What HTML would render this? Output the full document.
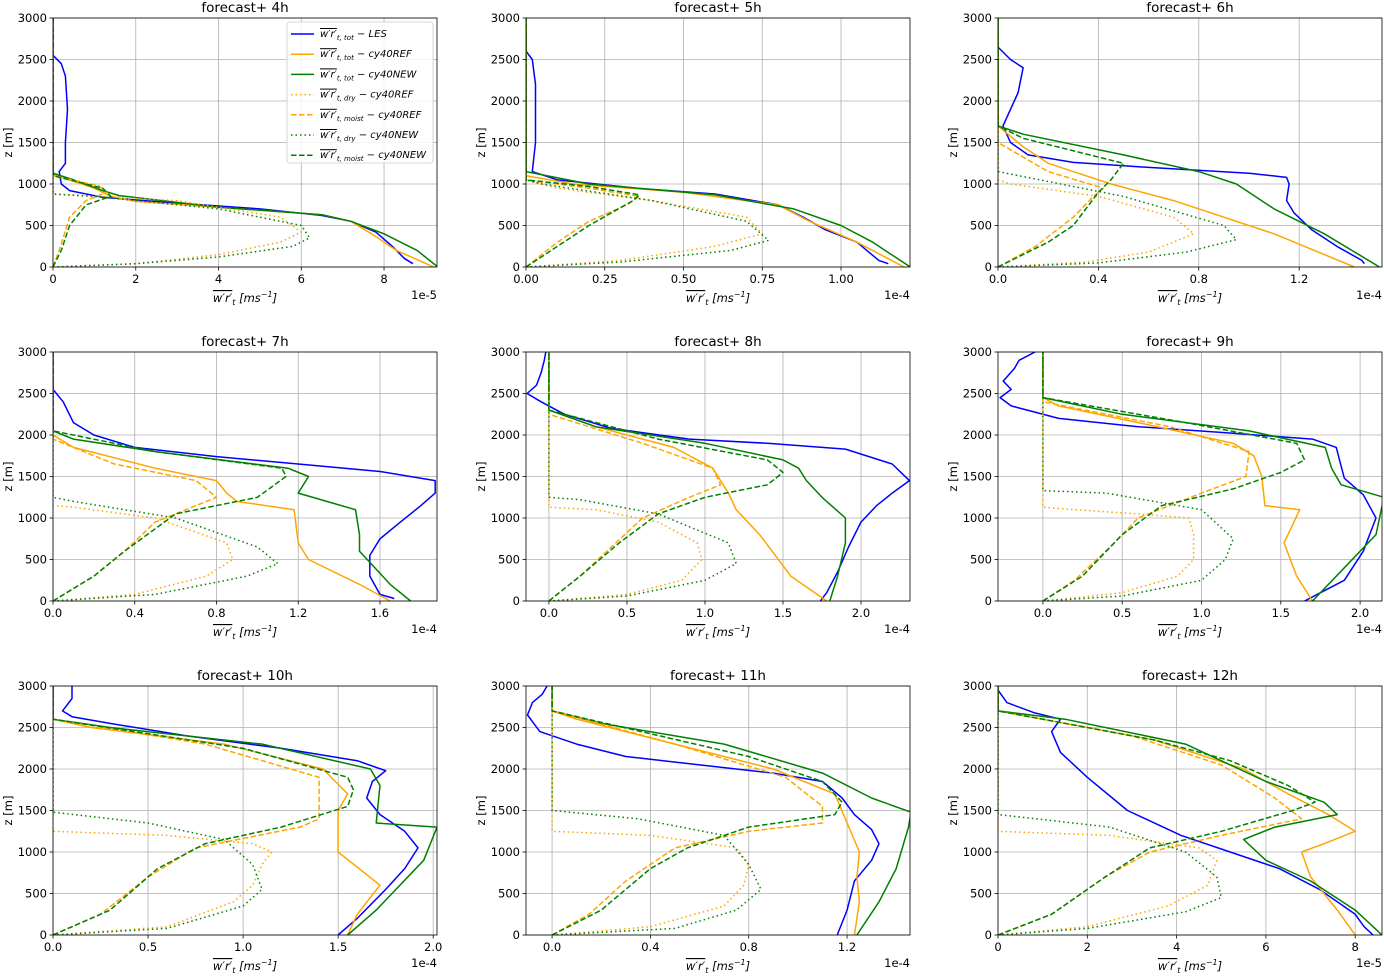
<!DOCTYPE html>
<html><head><meta charset="utf-8"><style>
body{margin:0;background:#fff;font-family:"Liberation Sans","DejaVu Sans",sans-serif}
svg text{font-family:"DejaVu Sans","Liberation Sans",sans-serif}
</style></head><body>
<svg id="fig" width="1384" height="974" xmlns="http://www.w3.org/2000/svg"></svg>
<script>
// ---- data (value, height[m]) per panel ----
const titles=["forecast+ 4h","forecast+ 5h","forecast+ 6h","forecast+ 7h","forecast+ 8h","forecast+ 9h","forecast+ 10h","forecast+ 11h","forecast+ 12h"];
const xDomains=[[0,9.28],[0,1.219],[0,1.53],[0,1.879],[-0.147,2.314],[-0.283,2.138],[0,2.02],[-0.106,1.456],[0,8.6]];
const xTicks=[[0,2,4,6,8],[0,0.25,0.5,0.75,1.0],[0,0.4,0.8,1.2],[0,0.4,0.8,1.2,1.6],[0,0.5,1,1.5,2],[0,0.5,1,1.5,2],[0,0.5,1,1.5,2],[0,0.4,0.8,1.2],[0,2,4,6,8]];
const xTickLabels=[["0","2","4","6","8"],["0.00","0.25","0.50","0.75","1.00"],["0.0","0.4","0.8","1.2"],["0.0","0.4","0.8","1.2","1.6"],["0.0","0.5","1.0","1.5","2.0"],["0.0","0.5","1.0","1.5","2.0"],["0.0","0.5","1.0","1.5","2.0"],["0.0","0.4","0.8","1.2"],["0","2","4","6","8"]];
const offsets=["1e-5","1e-4","1e-4","1e-4","1e-4","1e-4","1e-4","1e-4","1e-5"];
const yTicks=[0,500,1000,1500,2000,2500,3000];

const les=[
[[8.7,40],[8.5,100],[8.2,250],[7.8,420],[7.2,550],[6.5,620],[5,700],[3,770],[1.2,840],[0.4,920],[0.2,1000],[0.15,1150],[0.3,1250],[0.3,1500],[0.35,1900],[0.3,2300],[0.2,2450],[0,2550],[0,3000]],
[[1.15,40],[1.12,80],[1.05,300],[0.95,450],[0.88,600],[0.8,750],[0.6,880],[0.35,950],[0.1,1050],[0.02,1150],[0.03,1500],[0.03,2200],[0.02,2500],[0,2600],[0,3000]],
[[1.46,40],[1.45,80],[1.35,250],[1.25,450],[1.18,650],[1.15,800],[1.16,1000],[1.15,1080],[1.0,1130],[0.6,1200],[0.3,1260],[0.12,1350],[0.05,1500],[0.02,1700],[0.05,1900],[0.08,2100],[0.1,2400],[0.05,2500],[0,2650],[0,3000]],
[[1.67,30],[1.6,80],[1.55,300],[1.55,550],[1.6,750],[1.7,950],[1.8,1150],[1.87,1300],[1.87,1450],[1.6,1560],[1.2,1650],[0.8,1740],[0.4,1850],[0.2,2000],[0.1,2150],[0.05,2400],[0,2550],[0,3000]],
[[1.74,0],[1.78,100],[1.85,350],[1.92,650],[2.0,950],[2.1,1150],[2.2,1300],[2.31,1450],[2.2,1650],[1.9,1830],[1.4,1900],[0.9,1950],[0.4,2080],[0.1,2250],[-0.05,2400],[-0.14,2500],[-0.08,2600],[-0.05,2750],[-0.03,2900],[-0.02,3000]],
[[1.65,0],[1.75,100],[1.9,250],[2.02,600],[2.1,1000],[2.02,1280],[1.9,1480],[1.87,1700],[1.85,1850],[1.7,1950],[1.2,2020],[0.6,2100],[0.1,2200],[-0.2,2350],[-0.27,2450],[-0.2,2550],[-0.25,2650],[-0.18,2800],[-0.15,2900],[-0.05,3000]],
[[1.5,0],[1.6,200],[1.75,550],[1.85,800],[1.92,1050],[1.85,1250],[1.72,1450],[1.65,1650],[1.68,1850],[1.75,1980],[1.6,2100],[1.2,2250],[0.7,2400],[0.3,2550],[0.1,2630],[0.05,2700],[0.1,2850],[0.1,3000]],
[[1.16,0],[1.2,300],[1.23,650],[1.3,900],[1.33,1100],[1.3,1270],[1.23,1450],[1.18,1650],[1.1,1850],[0.9,1950],[0.6,2050],[0.3,2150],[0.1,2300],[-0.05,2450],[-0.1,2650],[-0.08,2800],[-0.04,2900],[-0.02,3000]],
[[8.4,0],[8.2,100],[8.0,250],[7.2,550],[6.3,800],[5.2,1000],[4.1,1200],[2.9,1500],[2.0,1900],[1.4,2200],[1.2,2450],[1.4,2600],[0.8,2680],[0.2,2800],[0,2950],[0,3000]]];
const refTot=[
[[9.2,0],[8.3,200],[7.7,400],[7.2,550],[6.5,630],[4,720],[2,790],[1.4,850],[1.0,950],[0.4,1050],[0,1120],[0,3000]],
[[1.2,0],[1.05,300],[0.9,550],[0.8,750],[0.5,900],[0.15,1000],[0,1100],[0,3000]],
[[1.42,0],[1.1,400],[0.7,800],[0.45,1000],[0.35,1100],[0.2,1250],[0.1,1450],[0,1700],[0,3000]],
[[1.65,0],[1.5,200],[1.25,500],[1.2,700],[1.18,1100],[0.9,1200],[0.85,1300],[0.8,1450],[0.5,1600],[0.1,1850],[0,2000],[0,3000]],
[[1.78,0],[1.55,300],[1.35,800],[1.2,1100],[1.15,1300],[1.05,1600],[0.8,1850],[0.3,2100],[0,2300],[0,3000]],
[[1.7,0],[1.6,300],[1.52,700],[1.62,1100],[1.4,1150],[1.38,1500],[1.33,1750],[1.2,1900],[0.6,2150],[0.1,2350],[0,2450],[0,3000]],
[[1.55,0],[1.6,250],[1.72,600],[1.5,1000],[1.5,1500],[1.55,1700],[1.42,2000],[0.9,2300],[0.2,2500],[0,2600],[0,3000]],
[[1.23,0],[1.25,400],[1.24,700],[1.25,1000],[1.2,1350],[1.15,1700],[0.9,2000],[0.5,2300],[0.1,2600],[0,2700],[0,3000]],
[[8.0,0],[7.6,300],[7.0,700],[6.8,1000],[7.3,1100],[8.0,1250],[7.4,1450],[6.5,1700],[5.5,2000],[3.5,2350],[1.0,2600],[0,2700],[0,3000]]];
const newTot=[
[[9.3,0],[8.8,200],[8.0,400],[7.2,550],[6.5,630],[4,720],[1.6,860],[1.2,920],[0.5,1050],[0,1130],[0,3000]],
[[1.22,0],[1.1,300],[1.0,500],[0.85,700],[0.6,870],[0.2,1000],[0,1150],[0,3000]],
[[1.52,0],[1.3,400],[1.1,700],[0.95,1000],[0.8,1150],[0.5,1350],[0.1,1600],[0,1700],[0,3000]],
[[1.75,0],[1.65,200],[1.5,600],[1.5,800],[1.48,1100],[1.2,1300],[1.25,1500],[1.15,1600],[0.5,1800],[0.1,1950],[0,2050],[0,3000]],
[[1.8,0],[1.85,300],[1.9,700],[1.9,1000],[1.75,1250],[1.65,1450],[1.6,1600],[1.5,1700],[1.0,1900],[0.3,2100],[0,2300],[0,3000]],
[[1.7,0],[1.9,400],[2.1,800],[2.15,1250],[1.88,1400],[1.82,1600],[1.78,1850],[1.3,2050],[0.5,2250],[0,2450],[0,3000]],
[[1.55,0],[1.7,300],[1.95,900],[2.02,1300],[1.7,1350],[1.72,1800],[1.67,2000],[1.1,2300],[0.3,2500],[0,2600],[0,3000]],
[[1.24,0],[1.33,400],[1.4,800],[1.45,1300],[1.46,1480],[1.3,1650],[1.1,1950],[0.7,2300],[0.2,2550],[0,2700],[0,3000]],
[[8.6,0],[8.0,300],[7.0,650],[6.0,900],[5.5,1150],[6.2,1300],[7.6,1450],[7.3,1600],[6.0,1850],[4.2,2300],[1.5,2600],[0,2700],[0,3000]]];
const refDry=[
[[0,0],[2,40],[4,150],[5.5,300],[6.0,420],[5.5,600],[3,800],[0,880],[0,3000]],
[[0,0],[0.3,80],[0.6,250],[0.75,400],[0.7,600],[0.4,800],[0.1,950],[0,1050],[0,3000]],
[[0,0],[0.35,60],[0.6,180],[0.78,400],[0.7,600],[0.4,850],[0.05,1000],[0,1050],[0,3000]],
[[0,0],[0.4,80],[0.75,300],[0.88,500],[0.85,700],[0.5,1000],[0.1,1130],[0,1150],[0,3000]],
[[0,0],[0.5,80],[0.85,250],[0.98,500],[0.95,700],[0.7,950],[0.3,1100],[0,1130],[0,3000]],
[[0,0],[0.5,100],[0.85,300],[0.95,500],[0.95,800],[0.92,1000],[0.6,1050],[0.2,1100],[0,1130],[0,3000]],
[[0,0],[0.6,100],[0.95,400],[1.05,600],[1.1,850],[1.15,1000],[1.05,1100],[0.6,1200],[0,1250],[0,3000]],
[[0,0],[0.4,100],[0.7,350],[0.78,600],[0.8,850],[0.75,1050],[0.4,1200],[0,1250],[0,3000]],
[[0,0],[2,100],[3.8,350],[4.7,600],[4.9,900],[4.5,1050],[2.5,1200],[0,1250],[0,3000]]];
const newDry=[
[[0,0],[2,40],[4,120],[5.8,250],[6.2,350],[6,500],[4,700],[1,850],[0,880],[0,3000]],
[[0,0],[0.3,60],[0.65,200],[0.77,320],[0.7,550],[0.4,800],[0.05,1000],[0,1050],[0,3000]],
[[0,0],[0.4,50],[0.75,180],[0.95,330],[0.9,500],[0.5,850],[0,1150],[0,3000]],
[[0,0],[0.5,80],[0.95,300],[1.1,450],[1.0,650],[0.6,1000],[0.1,1200],[0,1250],[0,3000]],
[[0,0],[0.5,60],[1.0,250],[1.2,450],[1.15,700],[0.7,1050],[0.2,1220],[0,1250],[0,3000]],
[[0,0],[0.5,60],[1.0,250],[1.15,500],[1.2,750],[1.0,1100],[0.4,1300],[0,1330],[0,3000]],
[[0,0],[0.6,80],[1.0,350],[1.1,550],[1.05,850],[0.9,1150],[0.5,1350],[0,1480],[0,3000]],
[[0,0],[0.5,80],[0.75,300],[0.85,550],[0.8,850],[0.7,1200],[0.35,1400],[0,1500],[0,3000]],
[[0,0],[2,80],[4.2,280],[5,450],[4.9,700],[4.2,1000],[2.5,1300],[0,1450],[0,3000]]];
const refMoist=[
[[0,0],[0.15,200],[0.4,600],[0.8,800],[1.3,900],[1.1,980],[0,1100],[0,3000]],
[[0,0],[0.1,300],[0.2,550],[0.32,750],[0.36,850],[0.2,950],[0,1050],[0,3000]],
[[0,0],[0.15,250],[0.3,600],[0.38,850],[0.42,950],[0.2,1150],[0,1500],[0,3000]],
[[0,0],[0.2,300],[0.35,600],[0.5,950],[0.8,1250],[0.7,1450],[0.3,1650],[0,1950],[0,3000]],
[[0,0],[0.2,300],[0.4,650],[0.6,1000],[0.9,1250],[1.1,1400],[1.05,1600],[0.6,1900],[0,2250],[0,3000]],
[[0,0],[0.2,250],[0.45,700],[0.6,1000],[1.0,1300],[1.28,1500],[1.3,1800],[0.8,2100],[0,2400],[0,3000]],
[[0,0],[0.25,250],[0.5,700],[0.75,1050],[1.3,1300],[1.4,1400],[1.4,1600],[1.4,1900],[0.8,2300],[0,2600],[0,3000]],
[[0,0],[0.15,250],[0.3,650],[0.5,1050],[0.8,1250],[1.1,1350],[1.1,1550],[0.95,1900],[0.5,2300],[0,2700],[0,3000]],
[[0,0],[1.2,250],[2.4,700],[3.4,1000],[5,1200],[6.8,1400],[6.2,1650],[5,2050],[3,2400],[0,2700],[0,3000]]];
const newMoist=[
[[0,0],[0.2,200],[0.4,500],[0.8,750],[1.4,850],[1.2,950],[0,1100],[0,3000]],
[[0,0],[0.1,250],[0.2,500],[0.34,800],[0.36,870],[0.2,970],[0,1050],[0,3000]],
[[0,0],[0.2,300],[0.3,500],[0.4,900],[0.45,1050],[0.5,1250],[0.1,1550],[0,1700],[0,3000]],
[[0,0],[0.2,300],[0.35,600],[0.6,1050],[1.0,1250],[1.14,1500],[1.12,1600],[0.5,1800],[0,2050],[0,3000]],
[[0,0],[0.2,300],[0.45,700],[0.7,1050],[1.0,1250],[1.4,1400],[1.5,1550],[1.4,1700],[0.7,1950],[0,2300],[0,3000]],
[[0,0],[0.25,300],[0.5,800],[0.75,1150],[1.2,1350],[1.5,1550],[1.65,1700],[1.6,1900],[0.9,2150],[0,2450],[0,3000]],
[[0,0],[0.3,300],[0.55,800],[0.8,1100],[1.2,1300],[1.55,1550],[1.58,1750],[1.55,1900],[1.0,2250],[0,2600],[0,3000]],
[[0,0],[0.2,300],[0.4,800],[0.55,1050],[0.8,1300],[1.15,1450],[1.18,1600],[1.1,1850],[0.8,2150],[0,2700],[0,3000]],
[[0,0],[1.2,250],[2.4,700],[3.4,1050],[5,1250],[6.6,1500],[7.1,1600],[6.5,1800],[5.2,2100],[3.5,2350],[0,2700],[0,3000]]];

const NS="http://www.w3.org/2000/svg";
const svg=document.getElementById('fig');
function mk(tag,attrs,parent,text){const e=document.createElementNS(NS,tag);for(const k in attrs)e.setAttribute(k,attrs[k]);if(text!==undefined)e.textContent=text;(parent||svg).appendChild(e);return e;}
const colX=[53,526,998], rowY=[18,352,686], W=384, H=249;
const BLUE="#0000ff",ORG="#ffa500",GRN="#008000";
const seriesDefs=[
 {d:les,c:BLUE,dash:null,n:'les-total-line'},
 {d:refTot,c:ORG,dash:null,n:'cy40ref-total-line'},
 {d:newTot,c:GRN,dash:null,n:'cy40new-total-line'},
 {d:refDry,c:ORG,dash:"1.5,3",n:'cy40ref-dry-line'},
 {d:refMoist,c:ORG,dash:"5.5,2.5",n:'cy40ref-moist-line'},
 {d:newDry,c:GRN,dash:"1.5,3",n:'cy40new-dry-line'},
 {d:newMoist,c:GRN,dash:"5.5,2.5",n:'cy40new-moist-line'}];

for(let p=0;p<9;p++){
 const x0=colX[p%3], y0=rowY[Math.floor(p/3)];
 const [a,b]=xDomains[p];
 const sx=v=>x0+(v-a)/(b-a)*W;
 const sy=z=>y0+H-z/3000*H;
 const g=mk('g',{});
 
 
 const clipId='clip'+p;
 const cp=mk('clipPath',{id:clipId},g);mk('rect',{x:x0,y:y0,width:W,height:H},cp);
 // grid
 xTicks[p].forEach((t,i)=>{const X=sx(t);
  mk('line',{x1:X,x2:X,y1:y0,y2:y0+H,stroke:'#b0b0b0','stroke-width':0.8},g);
  mk('line',{x1:X,x2:X,y1:y0+H,y2:y0+H+3.5,stroke:'#000','stroke-width':0.8},g);
  const tl=mk('text',{x:X,y:y0+H+16,'font-size':11.5,'text-anchor':'middle'},g,xTickLabels[p][i]);
  
  
 });
 yTicks.forEach(t=>{const Y=sy(t);
  mk('line',{x1:x0,x2:x0+W,y1:Y,y2:Y,stroke:'#b0b0b0','stroke-width':0.8},g);
  mk('line',{x1:x0-3.5,x2:x0,y1:Y,y2:Y,stroke:'#000','stroke-width':0.8},g);
  const tl=mk('text',{x:x0-6,y:Y+4,'font-size':11.5,'text-anchor':'end'},g,String(t));
  
  
 });
 // series
 const sg=mk('g',{'clip-path':'url(#'+clipId+')'},g);
 seriesDefs.forEach(s=>{
  const pts=s.d[p].map(q=>sx(q[0]).toFixed(1)+','+sy(q[1]).toFixed(1)).join(' ');
  const attrs={points:pts,fill:'none',stroke:s.c,'stroke-width':1.5,'stroke-linejoin':'round'};
  if(s.dash)attrs['stroke-dasharray']=s.dash;
  const pl=mk('polyline',attrs,sg);
  
  
 });
 mk('rect',{x:x0,y:y0,width:W,height:H,fill:'none',stroke:'#000','stroke-width':0.8},g);
 const tt=mk('text',{x:x0+W/2,y:y0-6,'font-size':13.5,'text-anchor':'middle'},g,titles[p]);
 
 
 const off=mk('text',{x:x0+W,y:y0+H+32,'font-size':11.5,'text-anchor':'end'},g,offsets[p]);
 
 
 // x label
 const xl=mk('text',{x:x0+W/2,y:y0+H+35,'font-size':11.5,'text-anchor':'middle','font-style':'italic'},g);
 
 
 mk('tspan',{'text-decoration':'overline'},xl,"w′r′");
 mk('tspan',{'font-size':8,dy:3},xl,"t");
 mk('tspan',{dy:-3},xl," [ms");
 mk('tspan',{'font-size':8,dy:-5},xl,"−1");
 mk('tspan',{dy:5},xl,"]");
 const yl=mk('text',{x:0,y:0,'font-size':11.5,'text-anchor':'middle',transform:'translate('+(x0-41)+','+(y0+H/2)+') rotate(-90)'},g,"z [m]");
 
 
}
// legend
const lg=mk('g',{});


mk('rect',{x:287,y:22,width:146,height:141,rx:3,fill:'#fff','fill-opacity':0.85,stroke:'#ccc','stroke-width':0.8},lg);
const legSub=["t, tot","t, tot","t, tot","t, dry","t, moist","t, dry","t, moist"];
const legRun=["LES","cy40REF","cy40NEW","cy40REF","cy40REF","cy40NEW","cy40NEW"];
seriesDefs.forEach((s,i)=>{
 const Y=34+i*20.2;
 const e=mk('g',{},lg);
 
 
 const la={x1:291,x2:314,y1:Y,y2:Y,stroke:s.c,'stroke-width':1.5};
 if(s.dash)la['stroke-dasharray']=s.dash;
 mk('line',la,e);
 const t=mk('text',{x:320,y:Y+3,'font-size':10,'font-style':'italic'},e);
 mk('tspan',{'text-decoration':'overline'},t,"w′r′");
 mk('tspan',{'font-size':7,dy:3},t,legSub[i]);
 mk('tspan',{dy:-3},t," − "+legRun[i]);
});
</script>
</body></html>
